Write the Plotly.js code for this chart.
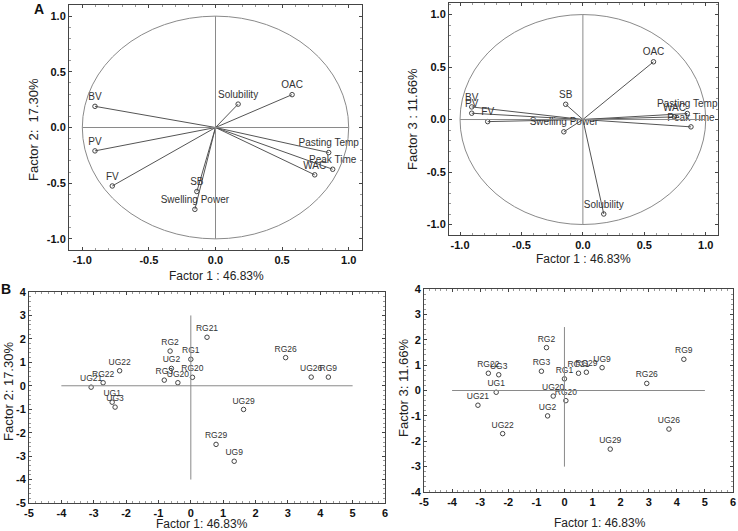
<!DOCTYPE html>
<html><head><meta charset="utf-8">
<script src="https://cdn.plot.ly/plotly-3.0.1.min.js"></script>
<style>html,body{margin:0;padding:0;background:#fff}#c{width:738px;height:531px}</style>
</head><body><div id="c"></div>
<script>
// Variable loadings (panel A)
const varNames = ['BV','PV','FV','SB','Swelling Power','Solubility','OAC','Pasting Temp','Peak Time','WAC'];
const varF1 = [-0.905,-0.905,-0.775,-0.14,-0.155,0.17,0.575,0.85,0.88,0.745];
const varF2 = [0.19,-0.21,-0.525,-0.575,-0.735,0.21,0.295,-0.225,-0.375,-0.425];
const varF3 = [0.12,0.06,-0.02,0.145,-0.117,-0.9,0.55,0.057,-0.07,0.025];
// Sample scores (panel B)
const sampleNames = ['RG1','RG2','RG3','RG9','RG20','RG21','RG22','RG26','RG29','UG1','UG2','UG3','UG9','UG20','UG21','UG22','UG26','UG29'];
const sampleF1 = [0.0,-0.64,-0.82,4.25,0.05,0.5,-2.71,2.93,0.78,-2.43,-0.6,-2.34,1.34,-0.4,-3.08,-2.2,3.72,1.63];
const sampleF2 = [1.13,1.48,0.24,0.37,0.36,2.07,0.13,1.2,-2.5,-0.7,0.74,-0.91,-3.22,0.13,-0.06,0.64,0.37,-1.01];
const sampleF3 = [0.46,1.69,0.76,1.23,-0.4,0.68,0.68,0.28,0.72,-0.07,-1.0,0.62,0.9,-0.22,-0.58,-1.7,-1.52,-2.31];
// Tick labels
const unitTicks = [-1, -0.5, 0, 0.5, 1];
const unitTickText = ['-1.0','-0.5','0.0','0.5','1.0'];
const scoreTicksX = [-5,-4,-3,-2,-1,0,1,2,3,4,5,6];
const scoreTickTextX = ['-5','-4','-3','-2','-1','0','1','2','3','4','5','6'];
const scoreTicksY2 = [-5,-4,-3,-2,-1,0,1,2,3,4];
const scoreTickTextY2 = ['-5','-4','-3','-2','-1','0','1','2','3','4'];
const scoreTicksY3 = [-4,-3,-2,-1,0,1,2,3,4];
const scoreTickTextY3 = ['-4','-3','-2','-1','0','1','2','3','4'];

const W = 738, H = 531;
const FONT = 'Liberation Sans, Arial, sans-serif';
const lineCol = '#8a8a8a', frameCol = '#444';

function vecTrace(fx, fy, xa, ya){
  const x = [], y = [];
  for (let i=0;i<fx.length;i++){ x.push(0, fx[i], null); y.push(0, fy[i], null); }
  return {x, y, xaxis:xa, yaxis:ya, mode:'lines', line:{color:'#555', width:1}, hoverinfo:'skip', showlegend:false};
}
function ptTrace(fx, fy, names, xa, ya, fs){
  return {x:fx, y:fy, text:names, xaxis:xa, yaxis:ya, mode:'markers+text', textposition:'top center',
    textfont:{family:FONT, size:fs, color:'#333'},
    marker:{symbol:'circle-open', size:4.5, color:'#444', line:{width:1}}, showlegend:false, cliponaxis:false};
}
const traces = [
  vecTrace(varF1, varF2, 'x', 'y'), ptTrace(varF1, varF2, varNames, 'x', 'y', 10),
  vecTrace(varF1, varF3, 'x2', 'y2'), ptTrace(varF1, varF3, varNames, 'x2', 'y2', 10),
  ptTrace(sampleF1, sampleF2, sampleNames, 'x3', 'y3', 8.5),
  ptTrace(sampleF1, sampleF3, sampleNames, 'x4', 'y4', 8.5)
];

function dom(a,b,tot){ return [a/tot, b/tot]; }
function ydom(top,bot){ return [1-bot/H, 1-top/H]; }
function bold(arr){ return arr.map(s => '<b>' + s + '</b>'); }
function ax(domain, range, tv, tt, minor, anchor){
  return {domain, range, tickmode:'array', tickvals:tv, ticktext:bold(tt), anchor, showgrid:false, zeroline:false,
    showline:true, mirror:'allticks', linecolor:frameCol, linewidth:1,
    ticks:'inside', ticklen:3, tickcolor:frameCol,
    minor:{dtick:minor, ticks:'inside', ticklen:2, tickcolor:'#999'},
    tickfont:{family:FONT, size:11, color:'#111'}};
}
function title(text, px, py, rot, size){
  return {text, xref:'paper', yref:'paper', x:px/W, y:1-py/H, xanchor:'center', yanchor:'middle',
    textangle:rot, showarrow:false, font:{family:FONT, size, color:'#222'}};
}
const layout = {
  width:W, height:H, margin:{l:0,r:0,t:0,b:0}, paper_bgcolor:'#fff', plot_bgcolor:'#fff', showlegend:false,
  xaxis: ax(dom(69,362,W), [-1.1,1.1], unitTicks, unitTickText, 0.1, 'y'),
  yaxis: ax(ydom(5,250), [-1.1,1.1], unitTicks, unitTickText, 0.1, 'x'),
  xaxis2: ax(dom(449,718,W), [-1.09,1.1], unitTicks, unitTickText, 0.1, 'y2'),
  yaxis2: ax(ydom(3,235), [-1.1,1.11], unitTicks, unitTickText, 0.1, 'x2'),
  xaxis3: ax(dom(29,385,W), [-5,6], scoreTicksX, scoreTickTextX, 0.2, 'y3'),
  yaxis3: ax(ydom(292,503), [-5,4], scoreTicksY2, scoreTickTextY2, 0.2, 'x3'),
  xaxis4: ax(dom(424,733,W), [-5,6], scoreTicksX, scoreTickTextX, 0.2, 'y4'),
  yaxis4: ax(ydom(289,492), [-4,4], scoreTicksY3, scoreTickTextY3, 0.2, 'x4'),
  shapes: [
    {type:'circle', xref:'x', yref:'y', x0:-1, x1:1, y0:-1, y1:1, line:{color:lineCol, width:1}},
    {type:'line', xref:'x', yref:'y', x0:-1, x1:1, y0:0, y1:0, line:{color:lineCol, width:1}},
    {type:'line', xref:'x', yref:'y', x0:0, x1:0, y0:-1, y1:1, line:{color:lineCol, width:1}},
    {type:'circle', xref:'x2', yref:'y2', x0:-1, x1:1, y0:-1, y1:1, line:{color:lineCol, width:1}},
    {type:'line', xref:'x2', yref:'y2', x0:-1, x1:1, y0:0, y1:0, line:{color:lineCol, width:1}},
    {type:'line', xref:'x2', yref:'y2', x0:0, x1:0, y0:-1, y1:1, line:{color:lineCol, width:1}},
    {type:'line', xref:'x3', yref:'y3', x0:-4, x1:5, y0:0, y1:0, line:{color:lineCol, width:1}},
    {type:'line', xref:'x3', yref:'y3', x0:0, x1:0, y0:-4, y1:3, line:{color:lineCol, width:1}},
    {type:'line', xref:'x4', yref:'y4', x0:-4, x1:5, y0:0, y1:0, line:{color:lineCol, width:1}},
    {type:'line', xref:'x4', yref:'y4', x0:0, x1:0, y0:-3, y1:2.5, line:{color:lineCol, width:1}}
  ],
  annotations: [
    {text:'<b>A</b>', xref:'paper', yref:'paper', x:39/W, y:1-9/H, xanchor:'center', yanchor:'middle', showarrow:false, font:{family:FONT, size:14, color:'#111'}},
    {text:'<b>B</b>', xref:'paper', yref:'paper', x:6/W, y:1-289/H, xanchor:'center', yanchor:'middle', showarrow:false, font:{family:FONT, size:14, color:'#111'}},
    title('Factor 1 : 46.83%', 216, 276, 0, 12),
    title('Factor 2:  17.30%', 33, 130, -90, 13),
    title('Factor 1 : 46.83%', 583, 259, 0, 12),
    title('Factor 3 : 11.66%', 412, 119, -90, 13),
    title('Factor 1: 46.83%', 202, 524, 0, 12),
    title('Factor 2: 17.30%', 8, 392, -90, 13),
    title('Factor 1: 46.83%', 600, 523, 0, 12),
    title('Factor 3: 11.66%', 403, 388, -90, 13)
  ]
};
Plotly.newPlot('c', traces, layout, {staticPlot:true, displayModeBar:false});
</script></body></html>
